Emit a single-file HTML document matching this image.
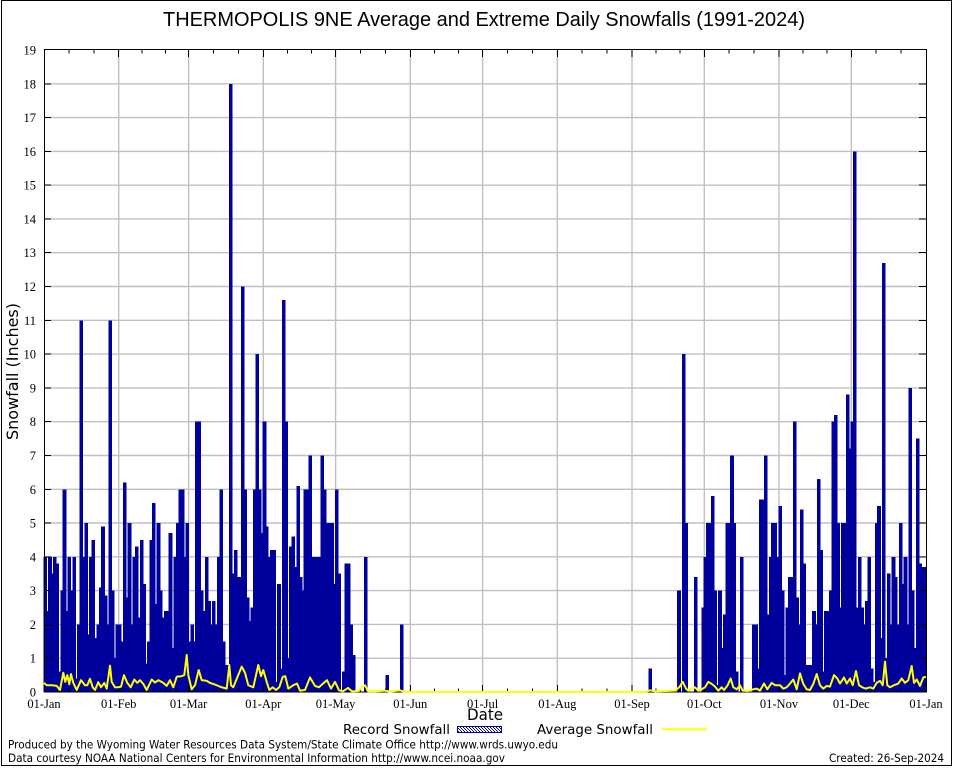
<!DOCTYPE html>
<html><head><meta charset="utf-8"><style>
html,body{margin:0;padding:0;background:#fff}
svg{display:block}
.ns{vector-effect:non-scaling-stroke}
</style></head><body>
<svg xmlns="http://www.w3.org/2000/svg" width="954" height="768" viewBox="0 0 954 768">
<defs>
<pattern id="pt" width="3" height="3" patternUnits="userSpaceOnUse"><rect width="3" height="3" fill="#fff"/><rect x="0" y="0" width="1" height="1" fill="#00009c"/><rect x="1" y="1" width="1" height="1" fill="#00009c"/><rect x="2" y="2" width="1" height="1" fill="#00009c"/></pattern>
</defs>
<rect width="954" height="768" fill="#fff"/>
<rect x="1.5" y="0.5" width="950" height="765" fill="none" stroke="#000" stroke-width="1"/>

<!-- grid -->
<path stroke="#c0c0c0" stroke-width="1.4" fill="none" d="M44 658.2H926M44 624.4H926M44 590.6H926M44 556.8H926M44 523H926M44 489.3H926M44 455.5H926M44 421.7H926M44 387.9H926M44 354.1H926M44 320.3H926M44 286.5H926M44 252.7H926M44 218.9H926M44 185.2H926M44 151.4H926M44 117.6H926M44 83.8H926
M118.7 50V692M188.6 50V692M263.3 50V692M335.6 50V692M410.3 50V692M482.6 50V692M557.3 50V692M632 50V692M704.3 50V692M779 50V692M851.3 50V692"/>

<!-- bars -->
<g transform="translate(43.4,692) scale(2.40984,-33.7895)" fill="#00009c" shape-rendering="crispEdges">
<rect x="0" width="1.5" height="4.0"/><rect x="1" width="1.5" height="2.4"/><rect x="2" width="1.5" height="4.0"/><rect x="3" width="1.5" height="3.5"/><rect x="4" width="1.5" height="4.0"/><rect x="5" width="1.5" height="3.8"/><rect x="6" width="1.5" height="0.6"/><rect x="7" width="1.5" height="3.0"/><rect x="8" width="1.5" height="6.0"/><rect x="9" width="1.5" height="2.4"/>
<rect x="10" width="1.5" height="4.0"/><rect x="11" width="1.5" height="3.0"/><rect x="12" width="1.5" height="4.0"/><rect x="13" width="1.5" height="0.4"/><rect x="14" width="1.5" height="2.0"/><rect x="15" width="1.5" height="11.0"/><rect x="16" width="1.5" height="4.0"/><rect x="17" width="1.5" height="5.0"/><rect x="18" width="1.5" height="1.7"/><rect x="19" width="1.5" height="4.0"/>
<rect x="20" width="1.5" height="4.5"/><rect x="21" width="1.5" height="1.6"/><rect x="22" width="1.5" height="2.0"/><rect x="23" width="1.5" height="3.1"/><rect x="24" width="1.5" height="4.9"/><rect x="25" width="1.5" height="2.85"/><rect x="26" width="1.5" height="2.0"/><rect x="27" width="1.5" height="11.0"/><rect x="28" width="1.5" height="3.0"/><rect x="29" width="1.5" height="1.0"/>
<rect x="30" width="1.5" height="2.0"/><rect x="31" width="1.5" height="2.0"/><rect x="32" width="1.5" height="1.5"/><rect x="33" width="1.5" height="6.2"/><rect x="34" width="1.5" height="2.8"/><rect x="35" width="1.5" height="5.0"/><rect x="36" width="1.5" height="2.0"/><rect x="37" width="1.5" height="4.0"/><rect x="38" width="1.5" height="4.3"/><rect x="39" width="1.5" height="2.2"/>
<rect x="40" width="1.5" height="4.5"/><rect x="41" width="1.5" height="3.2"/><rect x="42" width="1.5" height="0.85"/><rect x="43" width="1.5" height="1.5"/><rect x="44" width="1.5" height="4.5"/><rect x="45" width="1.5" height="5.6"/><rect x="46" width="1.5" height="2.6"/><rect x="47" width="1.5" height="5.0"/><rect x="48" width="1.5" height="3.0"/><rect x="49" width="1.5" height="2.2"/>
<rect x="50" width="1.5" height="2.4"/><rect x="51" width="1.5" height="2.4"/><rect x="52" width="1.5" height="4.7"/><rect x="53" width="1.5" height="1.3"/><rect x="54" width="1.5" height="4.0"/><rect x="55" width="1.5" height="5.0"/><rect x="56" width="1.5" height="6.0"/><rect x="57" width="1.5" height="6.0"/><rect x="58" width="1.5" height="4.0"/><rect x="59" width="1.5" height="5.0"/>
<rect x="60" width="1.5" height="1.5"/><rect x="61" width="1.5" height="2.0"/><rect x="62" width="1.5" height="1.5"/><rect x="63" width="1.5" height="8.0"/><rect x="64" width="1.5" height="8.0"/><rect x="65" width="1.5" height="3.0"/><rect x="66" width="1.5" height="2.4"/><rect x="67" width="1.5" height="4.0"/><rect x="68" width="1.5" height="2.7"/><rect x="69" width="1.5" height="2.0"/>
<rect x="70" width="1.5" height="2.7"/><rect x="71" width="1.5" height="2.0"/><rect x="72" width="1.5" height="4.0"/><rect x="73" width="1.5" height="6.0"/><rect x="74" width="1.5" height="1.5"/><rect x="75" width="1.5" height="0.8"/><rect x="76" width="1.5" height="0.8"/><rect x="77" width="1.5" height="18.0"/><rect x="78" width="1.5" height="3.5"/><rect x="79" width="1.5" height="4.2"/>
<rect x="80" width="1.5" height="3.4"/><rect x="81" width="1.5" height="3.4"/><rect x="82" width="1.5" height="12.0"/><rect x="83" width="1.5" height="6.0"/><rect x="84" width="1.5" height="2.8"/><rect x="85" width="1.5" height="2.1"/><rect x="86" width="1.5" height="2.5"/><rect x="87" width="1.5" height="6.0"/><rect x="88" width="1.5" height="10.0"/><rect x="89" width="1.5" height="6.0"/>
<rect x="90" width="1.5" height="4.7"/><rect x="91" width="1.5" height="8.0"/><rect x="92" width="1.5" height="4.9"/><rect x="93" width="1.5" height="4.0"/><rect x="94" width="1.5" height="4.2"/><rect x="95" width="1.5" height="4.2"/><rect x="96" width="1.5" height="0.3"/><rect x="97" width="1.5" height="3.2"/><rect x="98" width="1.5" height="0.7"/><rect x="99" width="1.5" height="11.6"/>
<rect x="100" width="1.5" height="8.0"/><rect x="101" width="1.5" height="1.0"/><rect x="102" width="1.5" height="4.3"/><rect x="103" width="1.5" height="4.6"/><rect x="104" width="1.5" height="3.7"/><rect x="105" width="1.5" height="6.1"/><rect x="106" width="1.5" height="3.4"/><rect x="107" width="1.5" height="3.0"/><rect x="108" width="1.5" height="6.0"/><rect x="109" width="1.5" height="6.0"/>
<rect x="110" width="1.5" height="7.0"/><rect x="111" width="1.5" height="4.0"/><rect x="112" width="1.5" height="4.0"/><rect x="113" width="1.5" height="4.0"/><rect x="114" width="1.5" height="4.0"/><rect x="115" width="1.5" height="7.0"/><rect x="116" width="1.5" height="6.0"/><rect x="117" width="1.5" height="5.0"/><rect x="118" width="1.5" height="5.0"/><rect x="119" width="1.5" height="5.0"/>
<rect x="120" width="1.5" height="3.2"/><rect x="121" width="1.5" height="6.0"/><rect x="122" width="1.5" height="3.5"/><rect x="124" width="1.5" height="0.6"/><rect x="125" width="1.5" height="3.8"/><rect x="126" width="1.5" height="3.8"/><rect x="127" width="1.5" height="2.0"/><rect x="128" width="1.5" height="1.1"/><rect x="133" width="1.5" height="4.0"/><rect x="142" width="1.5" height="0.5"/><rect x="148" width="1.5" height="2.0"/>
<rect x="251" width="1.5" height="0.7"/>
<rect x="263" width="1.5" height="3.0"/><rect x="265" width="1.5" height="10.0"/><rect x="266" width="1.5" height="5.0"/><rect x="270" width="1.5" height="3.4"/><rect x="273" width="1.5" height="2.5"/><rect x="274" width="1.5" height="4.0"/><rect x="275" width="1.5" height="5.0"/><rect x="276" width="1.5" height="5.0"/><rect x="277" width="1.5" height="5.8"/><rect x="278" width="1.5" height="3.0"/><rect x="279" width="1.5" height="0.2"/>
<rect x="280" width="1.5" height="3.0"/><rect x="281" width="1.5" height="1.3"/><rect x="282" width="1.5" height="2.3"/><rect x="283" width="1.5" height="5.0"/><rect x="284" width="1.5" height="5.0"/><rect x="285" width="1.5" height="7.0"/><rect x="286" width="1.5" height="5.0"/><rect x="287" width="1.5" height="0.6"/><rect x="289" width="1.5" height="4.0"/>
<rect x="294" width="1.5" height="2.0"/><rect x="295" width="1.5" height="2.0"/><rect x="296" width="1.5" height="0.7"/><rect x="297" width="1.5" height="5.7"/><rect x="298" width="1.5" height="5.7"/><rect x="299" width="1.5" height="7.0"/>
<rect x="300" width="1.5" height="2.3"/><rect x="301" width="1.5" height="4.0"/><rect x="302" width="1.5" height="5.0"/><rect x="303" width="1.5" height="5.0"/><rect x="304" width="1.5" height="4.0"/><rect x="305" width="1.5" height="5.5"/><rect x="306" width="1.5" height="3.0"/><rect x="307" width="1.5" height="0.5"/><rect x="308" width="1.5" height="2.5"/><rect x="309" width="1.5" height="3.4"/>
<rect x="310" width="1.5" height="3.4"/><rect x="311" width="1.5" height="8.0"/><rect x="312" width="1.5" height="2.8"/><rect x="313" width="1.5" height="2.0"/><rect x="314" width="1.5" height="5.4"/><rect x="315" width="1.5" height="3.8"/><rect x="316" width="1.5" height="0.8"/><rect x="317" width="1.5" height="0.8"/><rect x="318" width="1.5" height="0.8"/><rect x="319" width="1.5" height="2.4"/>
<rect x="320" width="1.5" height="2.0"/><rect x="321" width="1.5" height="6.3"/><rect x="322" width="1.5" height="4.2"/><rect x="323" width="1.5" height="0.6"/><rect x="324" width="1.5" height="2.4"/><rect x="325" width="1.5" height="2.4"/><rect x="326" width="1.5" height="3.0"/><rect x="327" width="1.5" height="8.0"/><rect x="328" width="1.5" height="8.2"/><rect x="329" width="1.5" height="5.0"/>
<rect x="330" width="1.5" height="2.5"/><rect x="331" width="1.5" height="5.0"/><rect x="332" width="1.5" height="5.0"/><rect x="333" width="1.5" height="8.8"/><rect x="334" width="1.5" height="7.2"/><rect x="335" width="1.5" height="8.0"/><rect x="336" width="1.5" height="16.0"/><rect x="337" width="1.5" height="2.5"/><rect x="338" width="1.5" height="4.0"/><rect x="339" width="1.5" height="2.5"/>
<rect x="340" width="1.5" height="2.0"/><rect x="341" width="1.5" height="2.7"/><rect x="342" width="1.5" height="4.0"/><rect x="343" width="1.5" height="0.7"/><rect x="344" width="1.5" height="0.3"/><rect x="345" width="1.5" height="5.0"/><rect x="346" width="1.5" height="5.5"/><rect x="347" width="1.5" height="1.6"/><rect x="348" width="1.5" height="12.7"/><rect x="349" width="1.5" height="1.0"/>
<rect x="350" width="1.5" height="3.5"/><rect x="351" width="1.5" height="2.0"/><rect x="352" width="1.5" height="4.0"/><rect x="353" width="1.5" height="3.4"/><rect x="354" width="1.5" height="2.0"/><rect x="355" width="1.5" height="5.0"/><rect x="356" width="1.5" height="3.2"/><rect x="357" width="1.5" height="4.0"/><rect x="358" width="1.5" height="2.0"/><rect x="359" width="1.5" height="9.0"/>
<rect x="360" width="1.5" height="3.0"/><rect x="361" width="1.5" height="1.3"/><rect x="362" width="1.5" height="7.5"/><rect x="363" width="1.5" height="3.8"/><rect x="364" width="1.5" height="3.7"/><rect x="365" width="1.3" height="3.7"/>
</g>

<!-- border -->
<rect x="44.5" y="49.5" width="882" height="642.5" fill="none" stroke="#000" stroke-width="1" shape-rendering="crispEdges"/>

<!-- ticks -->
<path shape-rendering="crispEdges" stroke="#000" stroke-width="1" fill="none" d="
M44 658.2H51M44 624.4H51M44 590.6H51M44 556.8H51M44 523H51M44 489.3H51M44 455.5H51M44 421.7H51M44 387.9H51M44 354.1H51M44 320.3H51M44 286.5H51M44 252.7H51M44 218.9H51M44 185.2H51M44 151.4H51M44 117.6H51M44 83.8H51
M926 658.2H919M926 624.4H919M926 590.6H919M926 556.8H919M926 523H919M926 489.3H919M926 455.5H919M926 421.7H919M926 387.9H919M926 354.1H919M926 320.3H919M926 286.5H919M926 252.7H919M926 218.9H919M926 185.2H919M926 151.4H919M926 117.6H919M926 83.8H919
M118.7 50V57M188.6 50V57M263.3 50V57M335.6 50V57M410.3 50V57M482.6 50V57M557.3 50V57M632 50V57M704.3 50V57M779 50V57M851.3 50V57
M68.9 50V53.5M93.8 50V53.5M142 50V53.5M165.3 50V53.5M213.5 50V53.5M238.4 50V53.5M287.4 50V53.5M311.5 50V53.5M360.5 50V53.5M385.4 50V53.5M434.4 50V53.5M458.5 50V53.5M507.5 50V53.5M532.4 50V53.5M582.2 50V53.5M607.1 50V53.5M656.1 50V53.5M680.2 50V53.5M729.2 50V53.5M754.1 50V53.5M803.1 50V53.5M827.2 50V53.5M876.2 50V53.5M901.1 50V53.5
M118.7 692V685M188.6 692V685M263.3 692V685M335.6 692V685M410.3 692V685M482.6 692V685M557.3 692V685M632 692V685M704.3 692V685M779 692V685M851.3 692V685
M68.9 692V688.5M93.8 692V688.5M142 692V688.5M165.3 692V688.5M213.5 692V688.5M238.4 692V688.5M287.4 692V688.5M311.5 692V688.5M360.5 692V688.5M385.4 692V688.5M434.4 692V688.5M458.5 692V688.5M507.5 692V688.5M532.4 692V688.5M582.2 692V688.5M607.1 692V688.5M656.1 692V688.5M680.2 692V688.5M729.2 692V688.5M754.1 692V688.5M803.1 692V688.5M827.2 692V688.5M876.2 692V688.5M901.1 692V688.5"/>

<!-- average line -->
<g transform="translate(0,692) scale(1,-33.7895)">
<polyline class="ns" fill="none" stroke="#ffff00" stroke-width="2" stroke-linejoin="round" points="
44,0.27 46.7,0.2 52,0.2 56.7,0.18 60,0.06 63.3,0.57 65.3,0.3 67.3,0.5 69.3,0.23 71,0.53 73.3,0.27 76.7,0.06 81,0.35 85,0.2 87.3,0.2 90,0.39 92.7,0.14 95,0.06 98.3,0.29 101,0.14 104.3,0.27 106.7,0.1 110,0.78 111.7,0.3 115,0.14 118.3,0.14 121,0.16 124,0.5 127.3,0.27 130.7,0.14 134.3,0.37 137.3,0.27 140,0.35 143.3,0.24 146.7,0.06 151.7,0.37 155,0.28 158.3,0.35 163.3,0.27 166.7,0.18 170,0.35 173.3,0.14 176.7,0.45 181.7,0.47 184.3,0.5 186.7,1.1 188.3,0.5 191.7,0.08 195,0.2 198.7,0.65 201.7,0.35 206.7,0.33 210,0.27 216.7,0.2 221.7,0.14 226.7,0.1 229.3,0.8 231,0.2 233.3,0.14 241.7,0.75 245,0.57 248.3,0.2 253.3,0.14 258.3,0.8 261,0.47 263.3,0.65 266.7,0.3 269.3,0.06 272.7,0.14 276,0.06 279.3,0.14 282.7,0.45 285.3,0.47 288.3,0.1 293.3,0.2 297,0.25 300,0.04 305,0.06 310,0.43 315,0.18 319,0.14 323,0.25 327,0.35 331,0.1 335,0.3 339,0.05 343,0.02 348,0.12 352,0.02 358,0.03 365,0.2 368,0.02 375,0.02 385,0.04 390,0.01 400,0.05 405,0 645,0 650,0.05 655,0.02 675,0.04 676.7,0.08 679.3,0.14 682.7,0.3 686,0.1 688.3,0.04 691.7,0.08 695,0.14 698.3,0.04 701.7,0.08 705,0.14 708.3,0.3 711.7,0.24 715,0.16 718.3,0.04 721.7,0.14 724,0.06 727.3,0.18 730.7,0.4 733.3,0.14 736.7,0.08 740,0.2 742.7,0.04 748,0.03 753.3,0.08 756.7,0.1 760,0.04 764,0.25 767.3,0.08 771.7,0.27 775,0.2 780,0.2 783.3,0.1 786.7,0.14 790,0.25 793.3,0.37 796.7,0.08 800,0.55 803.3,0.24 806.7,0.08 810,0.06 813.3,0.24 816.7,0.53 820,0.2 823.3,0.1 826.7,0.18 830,0.16 834,0.5 837.3,0.4 840,0.25 844,0.43 846.7,0.25 850,0.4 852.7,0.2 856,0.62 859,0.2 862.3,0.14 865.7,0.1 870,0.14 873.3,0.1 876.7,0.27 880,0.33 882.7,0.2 885,0.9 887.3,0.2 890,0.14 894,0.2 898.3,0.25 901.7,0.4 905,0.27 908.3,0.35 911.7,0.77 914,0.27 916.7,0.37 920,0.18 923.3,0.43 926,0.45"/>
</g>

<!-- y tick labels -->
<g font-family="'Liberation Serif', serif" font-size="12.5" fill="#000" text-anchor="end">
<text x="36" y="696.5">0</text><text x="36" y="662.7">1</text><text x="36" y="628.9">2</text><text x="36" y="595.1">3</text><text x="36" y="561.3">4</text><text x="36" y="527.5">5</text><text x="36" y="493.8">6</text><text x="36" y="460">7</text><text x="36" y="426.2">8</text><text x="36" y="392.4">9</text>
<text x="36" y="358.6">10</text><text x="36" y="324.8">11</text><text x="36" y="291">12</text><text x="36" y="257.2">13</text><text x="36" y="223.4">14</text><text x="36" y="189.7">15</text><text x="36" y="155.9">16</text><text x="36" y="122.1">17</text><text x="36" y="88.3">18</text><text x="36" y="54.5">19</text>
</g>

<!-- x tick labels -->
<g font-family="'Liberation Serif', serif" font-size="12.5" fill="#000" text-anchor="middle">
<text x="44" y="708">01-Jan</text><text x="118.7" y="708">01-Feb</text><text x="188.6" y="708">01-Mar</text><text x="263.3" y="708">01-Apr</text><text x="335.6" y="708">01-May</text><text x="410.3" y="708">01-Jun</text><text x="482.6" y="708">01-Jul</text><text x="557.3" y="708">01-Aug</text><text x="632" y="708">01-Sep</text><text x="704.3" y="708">01-Oct</text><text x="779" y="708">01-Nov</text><text x="851.3" y="708">01-Dec</text><text x="926" y="708">01-Jan</text>
</g>

<!-- title & labels -->
<text x="163" y="26" font-family="'Liberation Sans', sans-serif" font-size="20" textLength="642" lengthAdjust="spacingAndGlyphs" fill="#000">THERMOPOLIS 9NE Average and Extreme Daily Snowfalls (1991-2024)</text>
<text transform="translate(18,371.5) rotate(-90)" text-anchor="middle" font-family="'DejaVu Sans', sans-serif" font-size="16" textLength="137" lengthAdjust="spacingAndGlyphs" fill="#000">Snowfall (Inches)</text>
<text x="467" y="720" font-family="'DejaVu Sans', sans-serif" font-size="16" textLength="36" lengthAdjust="spacingAndGlyphs" fill="#000">Date</text>

<!-- legend -->
<text x="343" y="734" font-family="'DejaVu Sans', sans-serif" font-size="13" textLength="107" lengthAdjust="spacingAndGlyphs" fill="#000">Record Snowfall</text>
<rect x="457.5" y="726.5" width="44" height="6" fill="url(#pt)" stroke="#00009c" stroke-width="1"/>
<text x="537" y="734" font-family="'DejaVu Sans', sans-serif" font-size="13" textLength="116" lengthAdjust="spacingAndGlyphs" fill="#000">Average Snowfall</text>
<line x1="662" y1="729.3" x2="707" y2="729.3" stroke="#ffff00" stroke-width="2"/>

<!-- footer -->
<text x="8" y="748.5" font-family="'DejaVu Sans', sans-serif" font-size="11.5" textLength="550" lengthAdjust="spacingAndGlyphs" fill="#000">Produced by the Wyoming Water Resources Data System/State Climate Office http://www.wrds.uwyo.edu</text>
<text x="8" y="762" font-family="'DejaVu Sans', sans-serif" font-size="11.5" textLength="497" lengthAdjust="spacingAndGlyphs" fill="#000">Data courtesy NOAA National Centers for Environmental Information http://www.ncei.noaa.gov</text>
<text x="829" y="762" font-family="'DejaVu Sans', sans-serif" font-size="11.5" textLength="115" lengthAdjust="spacingAndGlyphs" fill="#000">Created: 26-Sep-2024</text>
</svg>
</body></html>
